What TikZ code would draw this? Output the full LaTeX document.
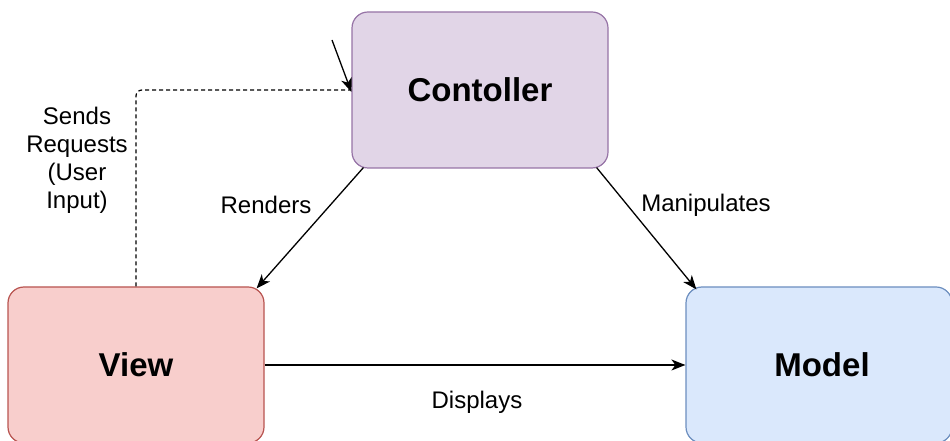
\documentclass[tikz,border=0pt]{standalone}
\usepackage{fontspec}
\setmainfont{Liberation Sans}
\usetikzlibrary{arrows.meta,calc}

\definecolor{ctrlfill}{HTML}{E1D5E7}
\definecolor{ctrldraw}{HTML}{9673A6}
\definecolor{viewfill}{HTML}{F8CECC}
\definecolor{viewdraw}{HTML}{B85450}
\definecolor{modelfill}{HTML}{DAE8FC}
\definecolor{modeldraw}{HTML}{6C8EBF}

\tikzset{
  box/.style={rounded corners=16pt, minimum width=256pt, minimum height=156pt,
    line width=1.2pt, font=\fontsize{33}{39}\selectfont\bfseries, inner sep=0pt},
  lbl/.style={font=\fontsize{24}{28}\selectfont, align=center, inner sep=0pt},
  conn/.style={line width=1.3pt, -{Stealth[length=14pt,width=11pt,inset=4pt]}},
}

\begin{document}
\begin{tikzpicture}[x=1pt,y=1pt]
  \useasboundingbox (0,0) rectangle (950,441);

  % the three parts
  \node[box, fill=ctrlfill, draw=ctrldraw] (ctrl) at (480,351) {Contoller};
  \node[box, fill=viewfill, draw=viewdraw] (view) at (136,76) {View};
  \node[box, fill=modelfill, draw=modeldraw, minimum width=266pt,
        text depth=0pt] (model) at (819,76) {\hspace*{6pt}Model};

  % user requests from the view back to the controller
  \draw[line width=1.2pt, dashed, dash pattern=on 4pt off 3pt, rounded corners=6pt]
    (view.north) |- (ctrl.west);
  \coordinate (reqtail) at (332,401);
  \draw[conn] (reqtail) -- ($(ctrl.west)+(0,-2)$);

  % controller renders the view and manipulates the model
  \draw[conn] ($(ctrl.south west)+(12,1)$) -- ($(view.north east)+(-8,-2)$);
  \draw[conn] ($(ctrl.south east)+(-12,1)$) -- ($(model.north west)+(11,-3)$);

  % view displays the model
  \draw[conn] (view.east) -- (model.west);

  % connector labels
  \node[lbl] (lrend) at (266,236) {Renders};
  \node[lbl] (lman) at (706,236) {Manipulates};
  \node[lbl] (ldisp) at (477,39) {Displays};
  \node[lbl] (lreq) at (77,281) {Sends\\Requests\\(User\\Input)};
\end{tikzpicture}
\end{document}
